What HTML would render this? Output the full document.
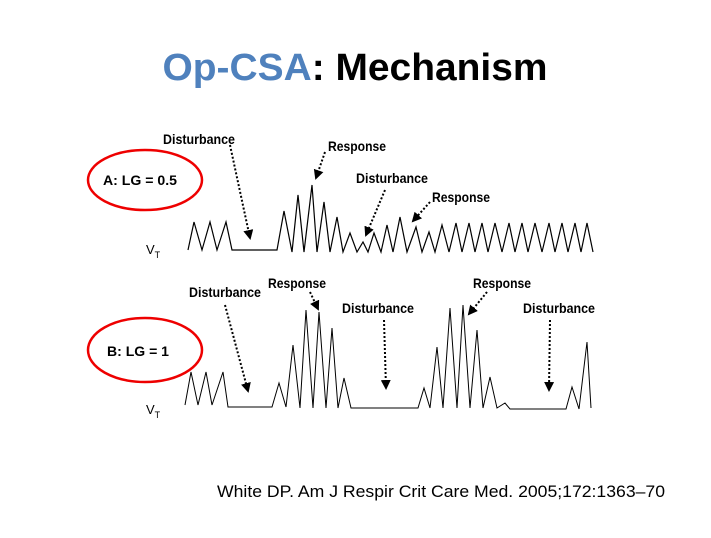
<!DOCTYPE html><html><head><style>body{margin:0;background:#fff}</style></head><body>
<svg width="711" height="533" xmlns="http://www.w3.org/2000/svg" font-family="Liberation Sans, sans-serif">
<defs><marker id="ah" markerWidth="5" markerHeight="5" refX="4" refY="2.5" orient="auto"><path d="M0,0L5,2.5L0,5z" fill="#000"/></marker></defs>
<text x="355" y="80" text-anchor="middle" font-size="38" font-weight="bold" textLength="385" lengthAdjust="spacingAndGlyphs"><tspan fill="#4f81bd">Op-CSA</tspan>: Mechanism</text>
<ellipse cx="145" cy="180" rx="57" ry="30" fill="none" stroke="#e00" stroke-width="2.5"/>
<ellipse cx="145" cy="350" rx="57" ry="32" fill="none" stroke="#e00" stroke-width="2.5"/>
<g font-size="14" font-weight="bold" lengthAdjust="spacingAndGlyphs">
<text x="103" y="185" textLength="74" lengthAdjust="spacingAndGlyphs">A: LG = 0.5</text>
<text x="107" y="356" textLength="62" lengthAdjust="spacingAndGlyphs">B: LG = 1</text>
<text x="163" y="144" textLength="72" lengthAdjust="spacingAndGlyphs">Disturbance</text>
<text x="328" y="151" textLength="58" lengthAdjust="spacingAndGlyphs">Response</text>
<text x="356" y="183" textLength="72" lengthAdjust="spacingAndGlyphs">Disturbance</text>
<text x="432" y="202" textLength="58" lengthAdjust="spacingAndGlyphs">Response</text>
<text x="189" y="297" textLength="72" lengthAdjust="spacingAndGlyphs">Disturbance</text>
<text x="268" y="288" textLength="58" lengthAdjust="spacingAndGlyphs">Response</text>
<text x="342" y="313" textLength="72" lengthAdjust="spacingAndGlyphs">Disturbance</text>
<text x="473" y="288" textLength="58" lengthAdjust="spacingAndGlyphs">Response</text>
<text x="523" y="313" textLength="72" lengthAdjust="spacingAndGlyphs">Disturbance</text>
</g>
<text x="146" y="254" font-size="13">V<tspan font-size="9" dy="4">T</tspan></text>
<text x="146" y="414" font-size="13">V<tspan font-size="9" dy="4">T</tspan></text>
<g stroke="#000" stroke-width="2" stroke-dasharray="2,2" fill="none" marker-end="url(#ah)">
<line x1="230" y1="145" x2="250" y2="238"/>
<line x1="325" y1="152" x2="316" y2="178"/>
<line x1="385" y1="190" x2="366" y2="235"/>
<line x1="430" y1="202" x2="413" y2="221"/>
<line x1="225" y1="305" x2="248" y2="391"/>
<line x1="310" y1="292" x2="318" y2="309"/>
<line x1="384" y1="320" x2="386" y2="388"/>
<line x1="487" y1="292" x2="469" y2="314"/>
<line x1="550" y1="320" x2="549" y2="390"/>
</g>
<polyline fill="none" stroke="#000" stroke-width="1.2" points="188,250 194,222 202,250 210,222 217,250 226,222 232,250 277,250 284,211 292,252 298,195 304,252 312,185 317,252 324,202 330,252 337,217 343,252 350,233 357,252 363,242 368,252 374,233 381,252 387,225 393,252 400,217 407,252 416,227 422,252 429,232 435,252 442,225 449,252 456,223 462,252 469,223 475,252 482,223 488,252 495,223 502,252 509,223 515,252 522,223 528,252 535,223 542,252 549,223 555,252 562,223 568,252 575,223 581,252 587,223 593,252"/>
<polyline fill="none" stroke="#000" stroke-width="1" points="185,405 191,372 198,405 206,372 212,405 223,372 228,407 272,407 279,383 286,407 293,345 300,408 306,310 313,408 319,312 326,408 332,328 338,408 344,378 351,408 418,408 424,388 430,408 437,347 443,408 450,308 457,408 463,305 470,408 477,330 483,408 490,377 497,408 505,403 510,409 566,409 572,387 579,409 587,342 591,408"/>
<text x="217" y="497" font-size="17" textLength="448" lengthAdjust="spacingAndGlyphs">White DP. Am J Respir Crit Care Med. 2005;172:1363–70</text>
</svg></body></html>
